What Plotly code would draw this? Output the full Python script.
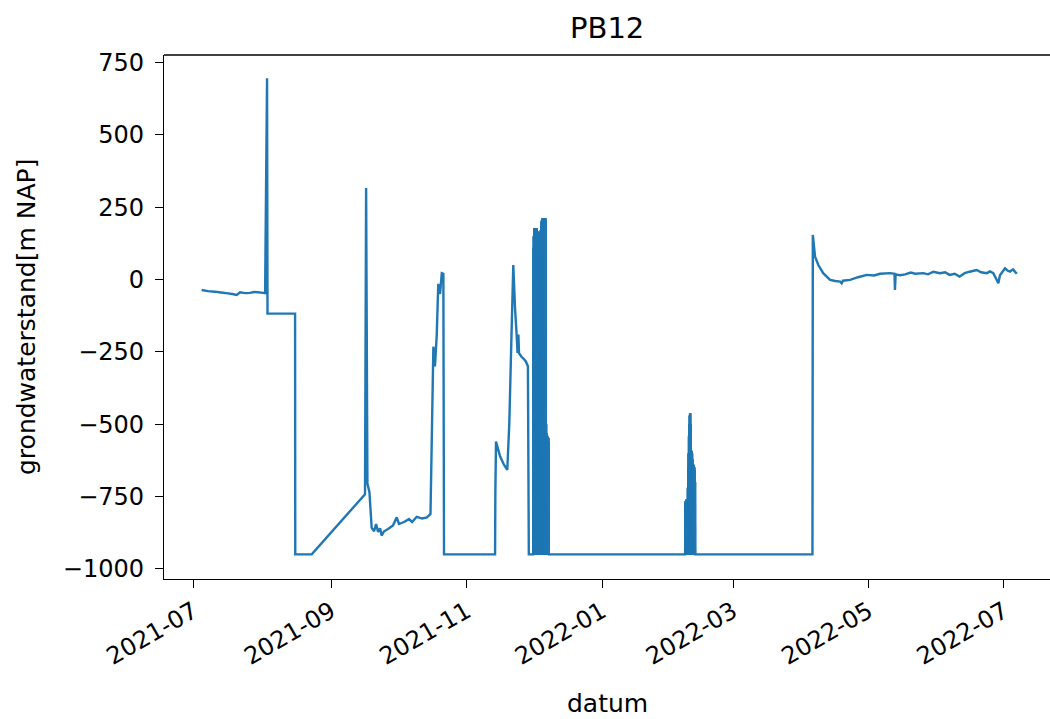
import plotly.graph_objects as go
import pandas as pd

# ---------------- data ----------------
dates_jul_oct = [
    "2021-07-04 15:00", "2021-07-07 12:00", "2021-07-10 14:00", "2021-07-13 08:00", "2021-07-16 12:00",
    "2021-07-18 10:00", "2021-07-20 10:00", "2021-07-21 22:00", "2021-07-24 06:00", "2021-07-26 10:00",
    "2021-07-28 04:00", "2021-07-30 00:00", "2021-08-01 06:00", "2021-08-02 05:00",
    "2021-08-03 02:00", "2021-08-03 07:00", "2021-08-15 17:00", "2021-08-15 19:00", "2021-08-23 05:00",
    "2021-09-16 05:00", "2021-09-16 17:00", "2021-09-17 07:00", "2021-09-18 05:00", "2021-09-19 05:00",
    "2021-09-20 07:00", "2021-09-21 05:00", "2021-09-22 02:00", "2021-09-23 00:00", "2021-09-23 17:00",
    "2021-09-24 19:00", "2021-09-26 14:00", "2021-09-28 19:00", "2021-09-30 12:00", "2021-10-01 12:00",
    "2021-10-03 19:00", "2021-10-06 00:00", "2021-10-07 10:00", "2021-10-09 12:00", "2021-10-11 22:00",
    "2021-10-14 02:00", "2021-10-15 17:00", "2021-10-17 00:00", "2021-10-17 17:00", "2021-10-18 12:00",
    "2021-10-19 05:00", "2021-10-20 00:00", "2021-10-20 19:00", "2021-10-21 12:00", "2021-10-21 19:00",
]
values_jul_oct = [
    -36, -40, -42, -45, -48,
    -50, -53, -44, -47, -46,
    -43, -44, -46, -47,
    696, -118, -118, -950, -950,
    -742, 316, -705, -735, -858,
    -870, -845, -872, -860, -885,
    -870, -862, -850, -822, -845,
    -838, -828, -838, -820, -826,
    -822, -810, -232, -300, -195,
    -15, -50, 22, 20, -950,
]

dates_nov = [
    "2021-11-13 19:00", "2021-11-13 22:00", "2021-11-14 05:00", "2021-11-16 00:00", "2021-11-17 19:00",
    "2021-11-19 07:00", "2021-11-20 05:00", "2021-11-21 00:00", "2021-11-22 00:00", "2021-11-22 19:00",
    "2021-11-23 12:00", "2021-11-23 22:00", "2021-11-24 07:00", "2021-11-24 14:00", "2021-11-25 19:00",
    "2021-11-26 19:00", "2021-11-27 17:00", "2021-11-28 14:00", "2021-11-29 00:00",
]
values_nov = [
    -950, -740, -560, -610, -640,
    -658, -496, -250, 50, -100,
    -190, -254, -190, -255, -268,
    -275, -284, -300, -950,
]

# December burst: readings every 2 hours from 2021-12-01 00:00
dec_start, dec_step = "2021-12-01 00:00", "2h"
values_dec = [
    -950, 110, -950, 150, -950, 178, -950, 175, -950, 172, -950, 170,
    -950, 176, -950, 174, -950, 178, -950, 170, -950, 168, -950, 165,
    -950, 160, -950, 158, -950, 152, -950, 150, -950, 148, -950, 155,
    -950, 160, -950, 165, -950, 171, -950, 185, -950, 200, -950, 205,
    -950, 210, -950, 213, -950, 208, -950, 212, -950, 213, -950, 210,
    -950, 213, -950, 211, -950, 213, -950, 205, -950, -500, -950, -530,
    -950, -543, -950, -540, -950, -550, -950, -545, -950, -548, -950, -560,
    -950,
]

# February burst: readings every 2 hours from 2022-02-07 10:00
feb_start, feb_step = "2022-02-07 10:00", "2h"
values_feb = [
    -950, -770, -950, -765, -950, -768,
    -950, -760, -950, -770, -950, -762, -950, -765, -950, -720, -950, -650,
    -950, -600, -950, -540, -950, -500, -950, -470, -950, -462, -950, -500,
    -950, -590, -950, -592, -950, -595, -950, -600, -950, -620, -950, -640,
    -950, -647, -950, -640, -950, -645, -950, -650, -950, -660, -950, -700,
    -950,
]

dates_apr_jul = [
    "2022-04-05 18:00", "2022-04-05 22:00", "2022-04-06 22:00", "2022-04-08 10:00", "2022-04-10 14:00",
    "2022-04-13 17:00", "2022-04-16 00:00", "2022-04-18 05:00", "2022-04-18 22:00", "2022-04-19 12:00",
    "2022-04-22 17:00", "2022-04-26 07:00", "2022-04-30 05:00", "2022-05-03 12:00", "2022-05-06 05:00",
    "2022-05-10 17:00", "2022-05-12 17:00", "2022-05-12 22:00", "2022-05-13 05:00", "2022-05-15 06:00",
    "2022-05-17 12:00", "2022-05-20 00:00", "2022-05-22 00:00", "2022-05-25 17:00", "2022-05-27 19:00",
    "2022-05-30 05:00", "2022-06-02 05:00", "2022-06-04 12:00", "2022-06-06 12:00", "2022-06-08 19:00",
    "2022-06-11 00:00", "2022-06-13 07:00", "2022-06-15 14:00", "2022-06-18 17:00", "2022-06-20 17:00",
    "2022-06-23 07:00", "2022-06-24 17:00", "2022-06-26 05:00", "2022-06-28 12:00", "2022-06-29 05:00",
    "2022-07-01 12:00", "2022-07-02 19:00", "2022-07-03 17:00", "2022-07-05 02:00", "2022-07-06 19:00",
]
values_apr_jul = [
    -950, 154, 79, 50, 22,
    -1, -5, -7, -13, -4,
    -1, 8, 16, 14, 20,
    22, 20, -36, 18, 15,
    18, 24, 20, 22, 18,
    27, 22, 25, 16, 20,
    10, 22, 27, 33, 25,
    22, 28, 22, -13, 15,
    39, 30, 27, 35, 20,
]

x_tick_vals = ["2021-07-01", "2021-09-01", "2021-11-01", "2022-01-01",
               "2022-03-01", "2022-05-01", "2022-07-01"]
x_tick_text = ["2021-07", "2021-09", "2021-11", "2022-01", "2022-03", "2022-05", "2022-07"]
y_tick_vals = [750, 500, 250, 0, -250, -500, -750, -1000]

title_text = "PB12"
x_label = "datum"
y_label = "grondwaterstand[m NAP]"

# ---------------- figure ----------------
dates_dec = [d.strftime("%Y-%m-%d %H:%M") for d in
             pd.date_range(dec_start, periods=len(values_dec), freq=dec_step)]
dates_feb = [d.strftime("%Y-%m-%d %H:%M") for d in
             pd.date_range(feb_start, periods=len(values_feb), freq=feb_step)]

dates = dates_jul_oct + dates_nov + dates_dec + dates_feb + dates_apr_jul
values = values_jul_oct + values_nov + values_dec + values_feb + values_apr_jul

COLOR = "#1f77b4"
LW = 2.4
FONT = "DejaVu Sans"


def as_segments(xs, ys):
    """Same polyline, but each consecutive pair as its own sub-path
    (avoids stroke artefacts of very dense zig-zags)."""
    sx, sy = [], []
    for i in range(len(xs) - 1):
        sx += [xs[i], xs[i + 1], None]
        sy += [ys[i], ys[i + 1], None]
    return sx, sy


fig = go.Figure()
fig.add_trace(go.Scatter(
    x=dates, y=values, mode="lines",
    line=dict(color=COLOR, width=LW, simplify=False),
    showlegend=False, hoverinfo="skip",
))
for bx, by in [(dates_dec, values_dec), (dates_feb, values_feb)]:
    sx, sy = as_segments(bx, by)
    fig.add_trace(go.Scatter(
        x=sx, y=sy, mode="lines", connectgaps=False,
        line=dict(color=COLOR, width=LW, simplify=False),
        showlegend=False, hoverinfo="skip",
    ))

fig.update_layout(
    width=1050, height=719,
    margin=dict(l=164, r=0, t=55, b=140),
    paper_bgcolor="white", plot_bgcolor="white",
    font=dict(family=FONT, color="black", size=24),
    showlegend=False,
)

fig.update_xaxes(
    type="date",
    range=["2021-06-17 16:00", "2022-07-21 18:00"],
    tickvals=x_tick_vals, ticktext=x_tick_text,
    tickangle=-30,
    ticks="outside", ticklen=8, tickwidth=1.3, tickcolor="black",
    showline=True, linecolor="black", linewidth=1.3,
    showgrid=False, zeroline=False,
    tickfont=dict(family=FONT, size=24, color="black"),
)
fig.update_yaxes(
    range=[-1035, 776],
    tickvals=y_tick_vals,
    ticks="outside", ticklen=8, tickwidth=1.3, tickcolor="black",
    showline=True, linecolor="black", linewidth=1.3,
    showgrid=False, zeroline=False,
    tickfont=dict(family=FONT, size=24, color="black"),
    ticklabelstandoff=6,
)

# top spine
fig.add_shape(type="line", xref="paper", yref="paper", x0=0, x1=1, y0=1, y1=1,
              line=dict(color="black", width=1.3))

fig.add_annotation(text=title_text, xref="paper", yref="paper", x=0.5, y=1,
                   xanchor="center", yanchor="middle", yshift=27, showarrow=False,
                   font=dict(family=FONT, size=29, color="black"))
fig.add_annotation(text=x_label, xref="paper", yref="paper", x=0.5, y=0,
                   xanchor="center", yanchor="middle", yshift=-124, showarrow=False,
                   font=dict(family=FONT, size=25, color="black"))
fig.add_annotation(text=y_label, xref="paper", yref="paper", x=0, y=0.5,
                   xanchor="center", yanchor="middle", xshift=-138, textangle=-90,
                   showarrow=False, font=dict(family=FONT, size=25, color="black"))

fig.write_html("out.html")
